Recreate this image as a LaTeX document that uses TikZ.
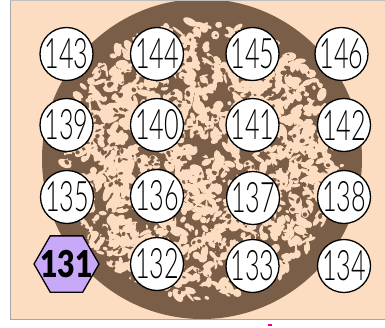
\documentclass[tikz,border=0pt]{standalone}
\usepackage{fontspec}
\setmainfont{Lato Light}[FakeStretch=0.6,BoldFont={Lato Black},BoldFeatures={FakeStretch=0.82}]
\usetikzlibrary{shapes.geometric}
\definecolor{peach}{HTML}{FDDDC2}
\definecolor{earth}{HTML}{7B5E47}
\definecolor{lav}{HTML}{C8A9F8}
\tikzset{
  num/.style={circle,draw=black,line width=1.3pt,fill=white,minimum size=53pt,inner sep=0pt,
    font=\fontsize{42}{42}\selectfont},
  hexnum/.style={regular polygon,regular polygon sides=6,draw=black,line width=1.3pt,fill=lav,
    minimum size=65pt,inner sep=0pt,font=\fontsize{37}{37}\selectfont\bfseries},
}
\newcommand\nb[1]{\makebox[0pt]{#1}}
\begin{document}
\begin{tikzpicture}[x=1pt,y=-1pt]
\useasboundingbox (0,0) rectangle (385,327);
\fill[white] (0,0) rectangle (385,327);
\begin{scope}
\clip (10,0) rectangle (385,319);
\fill[peach] (10,0) rectangle (385,319);
\fill[earth] (202,159) circle (160pt);
\pgfmathsetseed{11}
\foreach \i in {1,...,1300}{
  \pgfmathsetmacro\r{140*sqrt(rnd)}
  \pgfmathsetmacro\a{360*rnd}
  \pgfmathsetmacro\px{202+\r*cos(\a)}
  \pgfmathsetmacro\py{159+\r*sin(\a)}
  \pgfmathsetmacro\sa{1.5+6*rnd}
  \pgfmathsetmacro\sb{1+3.5*rnd}
  \pgfmathsetmacro\rot{180*rnd}
  \fill[peach,rotate around={\rot:(\px,\py)}] (\px,\py) ellipse ({\sa pt} and {\sb pt});
}
\foreach \i in {1,...,120}{
  \pgfmathsetmacro\r{125*sqrt(rnd)}
  \pgfmathsetmacro\a{360*rnd}
  \pgfmathsetmacro\px{202+\r*cos(\a)}
  \pgfmathsetmacro\py{159+\r*sin(\a)}
  \pgfmathsetmacro\sa{5+6*rnd}
  \pgfmathsetmacro\sb{3+3*rnd}
  \pgfmathsetmacro\rot{180*rnd}
  \fill[peach,rotate around={\rot:(\px,\py)}] (\px,\py) ellipse ({\sa pt} and {\sb pt});
}
\pgfmathsetseed{5}
\foreach \i in {1,...,500}{
  \pgfmathsetmacro\r{138*sqrt(rnd)}
  \pgfmathsetmacro\a{360*rnd}
  \pgfmathsetmacro\px{202+\r*cos(\a)}
  \pgfmathsetmacro\py{159+\r*sin(\a)}
  \pgfmathsetmacro\sa{1+2.5*rnd}
  \pgfmathsetmacro\sb{0.8+1.5*rnd}
  \pgfmathsetmacro\rot{180*rnd}
  \fill[earth,rotate around={\rot:(\px,\py)}] (\px,\py) ellipse ({\sa pt} and {\sb pt});
}
\end{scope}
\draw[color=black!35,line width=0.8pt] (10,0) -- (10,319) -- (385,319);
\draw[color=black!25,line width=0.6pt] (10,0.3) -- (385,0.3);
\fill[magenta] (268,324) rectangle (272,326);
\node[num] (n143) at (66.5,54) {\nb{143}};
\node[num] (n144) at (157,54) {\nb{144}};
\node[num] (n145) at (252.5,54) {\nb{145}};
\node[num] (n146) at (341.5,54) {\nb{146}};
\node[num] (n139) at (66.5,125) {\nb{139}};
\node[num] (n140) at (157,125) {\nb{140}};
\node[num] (n141) at (252.5,125) {\nb{141}};
\node[num] (n142) at (344,125) {\nb{142}};
\node[num] (n135) at (67,197) {\nb{135}};
\node[num] (n136) at (157,196) {\nb{136}};
\node[num] (n137) at (253,198) {\nb{137}};
\node[num] (n138) at (344,197) {\nb{138}};
\node[hexnum] (n131) at (66.5,264) {\nb{131}};
\node[num] (n132) at (157,264) {\nb{132}};
\node[num] (n133) at (252.5,266) {\nb{133}};
\node[num] (n134) at (344,266) {\nb{134}};
\end{tikzpicture}
\end{document}
